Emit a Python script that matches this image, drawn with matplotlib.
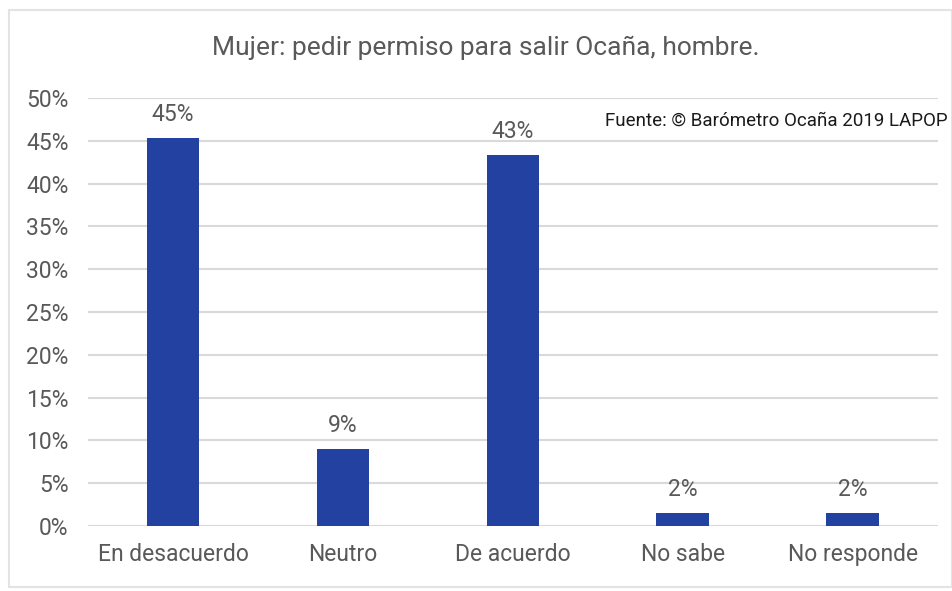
import matplotlib
matplotlib.use('Agg')
import matplotlib.pyplot as plt
from matplotlib.patches import Rectangle

plt.rcParams['font.family'] = ['Roboto', 'DejaVu Sans']

# ── Data ──────────────────────────────────────────────────────────────────────
categories = ['En desacuerdo', 'Neutro', 'De acuerdo', 'No sabe', 'No responde']
values     = [45.3, 9.0, 43.3, 1.5, 1.5]
labels     = ['45%', '9%', '43%', '2%', '2%']
yticks     = [0, 5, 10, 15, 20, 25, 30, 35, 40, 45, 50]

BAR  = '#2341A0'
GRID = '#D9D9D9'
TXT  = '#595959'

fig = plt.figure(figsize=(9.53, 5.91), dpi=100)
fig.patch.set_facecolor('white')

# outer chart frame
fig.patches.append(Rectangle((0.009, 0.007), 0.990, 0.976, transform=fig.transFigure,
                             fill=False, ec='#E3E3E3', lw=1.5))

ax = fig.add_axes([0.0923, 0.110, 0.8917, 0.724])
x = list(range(len(categories)))
ax.bar(x, values, width=0.31, color=BAR, zorder=3)

for xi, v, lab in zip(x, values, labels):
    ax.text(xi, v + 1.4, lab, ha='center', va='bottom', fontsize=16.5, color=TXT)

ax.set_xlim(-0.5, len(categories) - 0.5)
ax.set_ylim(0, 50)
ax.set_yticks(yticks)
ax.set_yticklabels([f'{t}%' for t in yticks], fontsize=16.5, color=TXT)
ax.set_xticks(x)
ax.set_xticklabels(categories, fontsize=16.5, color=TXT)
ax.tick_params(axis='both', length=0)
ax.tick_params(axis='y', pad=14)
ax.tick_params(axis='x', pad=12)
ax.grid(axis='y', color=GRID, lw=1.5, zorder=0)
for s in ax.spines.values():
    s.set_visible(False)

ax.text(1.012, 0.946, 'Fuente: © Barómetro Ocaña 2019 LAPOP', transform=ax.transAxes,
        ha='right', va='center', fontsize=13.5, color='#1A1A1A')

fig.text(0.51, 0.919, 'Mujer: pedir permiso para salir Ocaña, hombre.',
         ha='center', va='center', fontsize=19, color=TXT)

plt.savefig('out.png', dpi=100, facecolor=fig.get_facecolor())
